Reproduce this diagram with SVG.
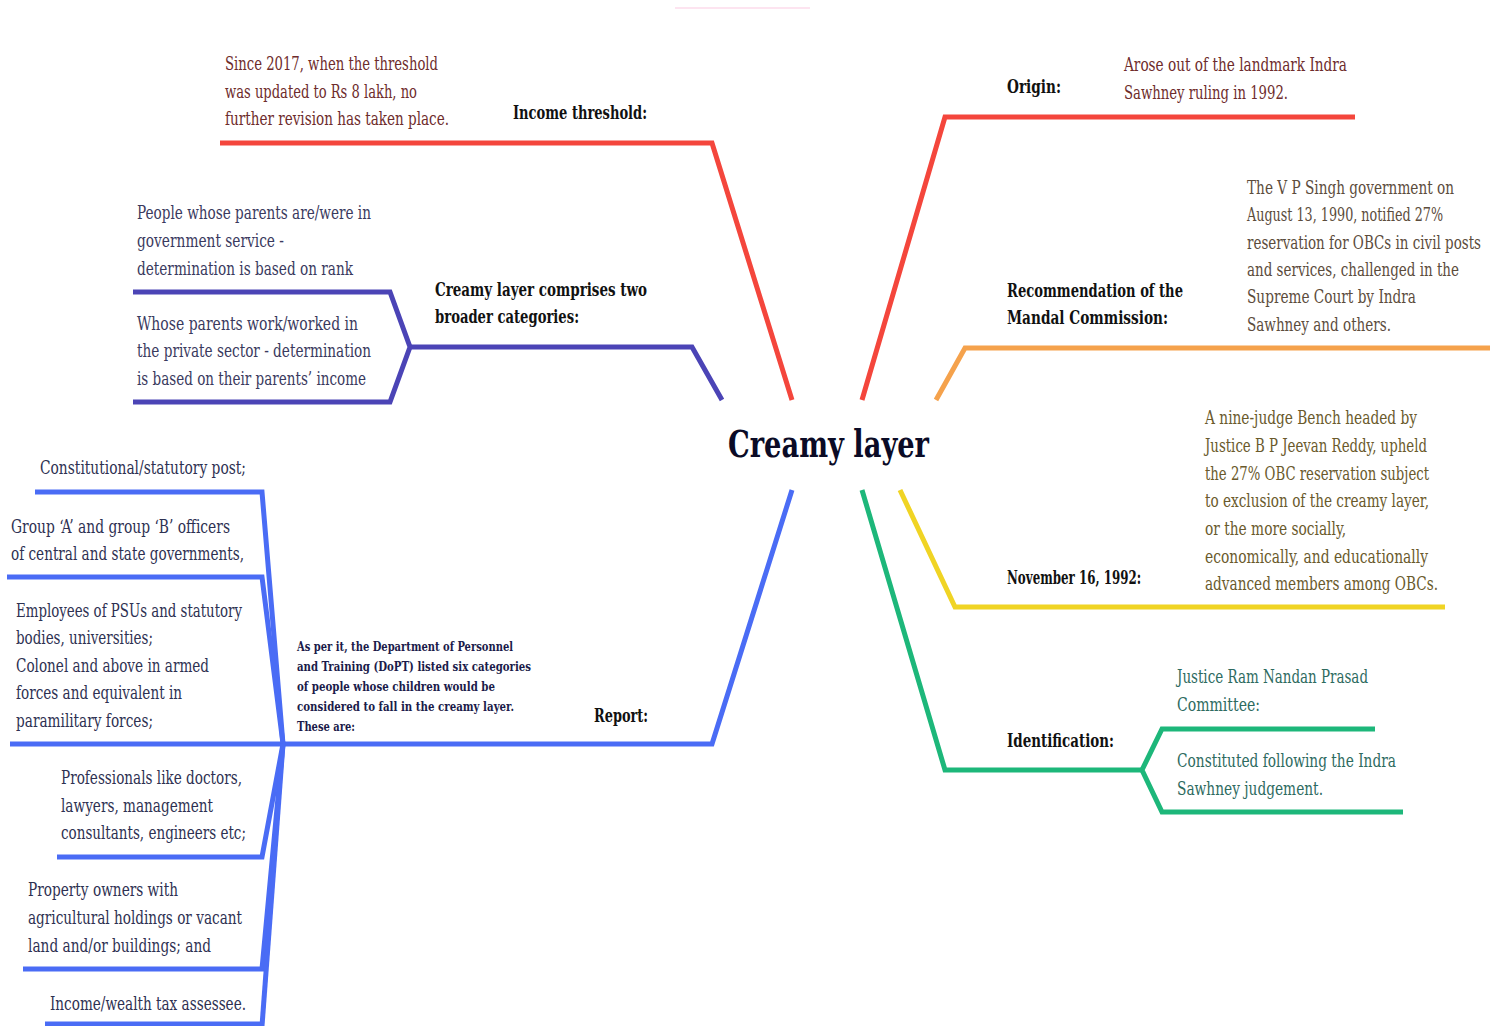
<svg xmlns="http://www.w3.org/2000/svg" width="1495" height="1026" viewBox="0 0 1495 1026">
<style>
text{font-family:"DejaVu Serif Condensed","DejaVu Serif","Liberation Serif",serif;font-stretch:condensed}
.t{font-size:19px}
.b{font-size:18px;font-weight:bold;fill:#111}
.s{font-size:13px;font-weight:bold;fill:#1b1b4a}
.ttl{font-size:38px;font-weight:bold;fill:#0b0b26}
.ln{fill:none;stroke-width:5;stroke-linejoin:miter;stroke-linecap:butt}
.red{stroke:#f4463c}.ind{stroke:#4b44b6}.blu{stroke:#4a6cf5}.org{stroke:#f5a24c}.yel{stroke:#f0d424}.grn{stroke:#1db77a}
.cr{fill:#6e2c2c}.ci{fill:#3a3a5e}.cb{fill:#2e3152}.co{fill:#5c4c3c}.cy{fill:#6a5a2c}.cg{fill:#2e6b5f}
</style>
<rect width="1495" height="1026" fill="#fff"/>
<line x1="675" y1="8" x2="810" y2="8" stroke="#fde4f0" stroke-width="2"/>
<g id="connectors">
<polyline class="ln red" points="220,143 712,143 792,400"/>
<polyline class="ln red" points="862,400 945,117 1355,117"/>
<polyline class="ln org" points="936,400 965,348 1490,348"/>
<polyline class="ln yel" points="900,490 955,607 1445,607"/>
<polyline class="ln grn" points="862,490 945,770 1142,770"/>
<polyline class="ln grn" points="1375,729 1162,729 1142,770 1162,812 1403,812"/>
<polyline class="ln ind" points="722,400 692,347 410,347"/>
<polyline class="ln ind" points="133,292 390,292 410,347 390,402 133,402"/>
<polyline class="ln blu" points="792,490 712,744 10,744"/>
<polyline class="ln blu" points="35,492 262,492 283,744"/>
<polyline class="ln blu" points="7,577 262,577 283,744"/>
<polyline class="ln blu" points="283,744 262,857 57,857"/>
<polyline class="ln blu" points="283,744 262,969 23,969"/>
<polyline class="ln blu" points="283,744 262,1026"/>
<polyline class="ln blu" points="45,1024 262,1024"/>
</g>
<g id="center"><text class="ttl" x="728" y="457" textLength="201" lengthAdjust="spacingAndGlyphs">Creamy layer</text></g>
<g id="income-threshold">
<text class="b" x="513" y="119" textLength="134" lengthAdjust="spacingAndGlyphs">Income threshold:</text>
<text class="t cr" x="225" y="70" textLength="213" lengthAdjust="spacingAndGlyphs">Since 2017, when the threshold</text>
<text class="t cr" x="225" y="98" textLength="192" lengthAdjust="spacingAndGlyphs">was updated to Rs 8 lakh, no</text>
<text class="t cr" x="225" y="125" textLength="224" lengthAdjust="spacingAndGlyphs">further revision has taken place.</text>
</g>
<g id="categories">
<text class="b" x="435" y="296" textLength="212" lengthAdjust="spacingAndGlyphs">Creamy layer comprises two</text>
<text class="b" x="435" y="323" textLength="144" lengthAdjust="spacingAndGlyphs">broader categories:</text>
<text class="t ci" x="137" y="219" textLength="234" lengthAdjust="spacingAndGlyphs">People whose parents are/were in</text>
<text class="t ci" x="137" y="247" textLength="147" lengthAdjust="spacingAndGlyphs">government service -</text>
<text class="t ci" x="137" y="275" textLength="216" lengthAdjust="spacingAndGlyphs">determination is based on rank</text>
<text class="t ci" x="137" y="330" textLength="221" lengthAdjust="spacingAndGlyphs">Whose parents work/worked in</text>
<text class="t ci" x="137" y="357" textLength="234" lengthAdjust="spacingAndGlyphs">the private sector - determination</text>
<text class="t ci" x="137" y="385" textLength="229" lengthAdjust="spacingAndGlyphs">is based on their parents’ income</text>
</g>
<g id="report">
<text class="b" x="594" y="722" textLength="54" lengthAdjust="spacingAndGlyphs">Report:</text>
<text class="s" x="297" y="651" textLength="216" lengthAdjust="spacingAndGlyphs">As per it, the Department of Personnel</text>
<text class="s" x="297" y="671" textLength="234" lengthAdjust="spacingAndGlyphs">and Training (DoPT) listed six categories</text>
<text class="s" x="297" y="691" textLength="198" lengthAdjust="spacingAndGlyphs">of people whose children would be</text>
<text class="s" x="297" y="711" textLength="217" lengthAdjust="spacingAndGlyphs">considered to fall in the creamy layer.</text>
<text class="s" x="297" y="731" textLength="58" lengthAdjust="spacingAndGlyphs">These are:</text>
</g>
<g id="report-items">
<text class="t cb" x="40" y="474" textLength="206" lengthAdjust="spacingAndGlyphs">Constitutional/statutory post;</text>
<text class="t cb" x="11" y="533" textLength="219" lengthAdjust="spacingAndGlyphs">Group ‘A’ and group ‘B’ officers</text>
<text class="t cb" x="11" y="560" textLength="233" lengthAdjust="spacingAndGlyphs">of central and state governments,</text>
<text class="t cb" x="16" y="617" textLength="226" lengthAdjust="spacingAndGlyphs">Employees of PSUs and statutory</text>
<text class="t cb" x="16" y="644" textLength="137" lengthAdjust="spacingAndGlyphs">bodies, universities;</text>
<text class="t cb" x="16" y="672" textLength="193" lengthAdjust="spacingAndGlyphs">Colonel and above in armed</text>
<text class="t cb" x="16" y="699" textLength="166" lengthAdjust="spacingAndGlyphs">forces and equivalent in</text>
<text class="t cb" x="16" y="727" textLength="137" lengthAdjust="spacingAndGlyphs">paramilitary forces;</text>
<text class="t cb" x="61" y="784" textLength="181" lengthAdjust="spacingAndGlyphs">Professionals like doctors,</text>
<text class="t cb" x="61" y="812" textLength="152" lengthAdjust="spacingAndGlyphs">lawyers, management</text>
<text class="t cb" x="61" y="839" textLength="185" lengthAdjust="spacingAndGlyphs">consultants, engineers etc;</text>
<text class="t cb" x="28" y="896" textLength="150" lengthAdjust="spacingAndGlyphs">Property owners with</text>
<text class="t cb" x="28" y="924" textLength="214" lengthAdjust="spacingAndGlyphs">agricultural holdings or vacant</text>
<text class="t cb" x="28" y="952" textLength="183" lengthAdjust="spacingAndGlyphs">land and/or buildings; and</text>
<text class="t cb" x="50" y="1010" textLength="196" lengthAdjust="spacingAndGlyphs">Income/wealth tax assessee.</text>
</g>
<g id="origin">
<text class="b" x="1007" y="93" textLength="54" lengthAdjust="spacingAndGlyphs">Origin:</text>
<text class="t cr" x="1124" y="71" textLength="223" lengthAdjust="spacingAndGlyphs">Arose out of the landmark Indra</text>
<text class="t cr" x="1124" y="99" textLength="164" lengthAdjust="spacingAndGlyphs">Sawhney ruling in 1992.</text>
</g>
<g id="mandal">
<text class="b" x="1007" y="297" textLength="176" lengthAdjust="spacingAndGlyphs">Recommendation of the</text>
<text class="b" x="1007" y="324" textLength="161" lengthAdjust="spacingAndGlyphs">Mandal Commission:</text>
<g transform="translate(1247,0) scale(0.8,1)">
<text class="t co" x="0" y="194" textLength="258.75" lengthAdjust="spacingAndGlyphs">The V P Singh government on</text>
<text class="t co" x="0" y="221" textLength="245" lengthAdjust="spacingAndGlyphs">August 13, 1990, notified 27%</text>
<text class="t co" x="0" y="249" textLength="292.5" lengthAdjust="spacingAndGlyphs">reservation for OBCs in civil posts</text>
<text class="t co" x="0" y="276" textLength="265" lengthAdjust="spacingAndGlyphs">and services, challenged in the</text>
<text class="t co" x="0" y="303" textLength="211.25" lengthAdjust="spacingAndGlyphs">Supreme Court by Indra</text>
<text class="t co" x="0" y="331" textLength="180" lengthAdjust="spacingAndGlyphs">Sawhney and others.</text>
</g>
</g>
<g id="november">
<text class="b" x="1007" y="584" textLength="134" lengthAdjust="spacingAndGlyphs">November 16, 1992:</text>
<text class="t cy" x="1205" y="424" textLength="212" lengthAdjust="spacingAndGlyphs">A nine-judge Bench headed by</text>
<text class="t cy" x="1205" y="452" textLength="222" lengthAdjust="spacingAndGlyphs">Justice B P Jeevan Reddy, upheld</text>
<text class="t cy" x="1205" y="480" textLength="224" lengthAdjust="spacingAndGlyphs">the 27% OBC reservation subject</text>
<text class="t cy" x="1205" y="507" textLength="224" lengthAdjust="spacingAndGlyphs">to exclusion of the creamy layer,</text>
<text class="t cy" x="1205" y="535" textLength="141" lengthAdjust="spacingAndGlyphs">or the more socially,</text>
<text class="t cy" x="1205" y="563" textLength="223" lengthAdjust="spacingAndGlyphs">economically, and educationally</text>
<text class="t cy" x="1205" y="590" textLength="233" lengthAdjust="spacingAndGlyphs">advanced members among OBCs.</text>
</g>
<g id="identification">
<text class="b" x="1007" y="747" textLength="107" lengthAdjust="spacingAndGlyphs">Identification:</text>
<text class="t cg" x="1177" y="683" textLength="191" lengthAdjust="spacingAndGlyphs">Justice Ram Nandan Prasad</text>
<text class="t cg" x="1177" y="711" textLength="83" lengthAdjust="spacingAndGlyphs">Committee:</text>
<text class="t cg" x="1177" y="767" textLength="219" lengthAdjust="spacingAndGlyphs">Constituted following the Indra</text>
<text class="t cg" x="1177" y="795" textLength="146" lengthAdjust="spacingAndGlyphs">Sawhney judgement.</text>
</g>
</svg>
